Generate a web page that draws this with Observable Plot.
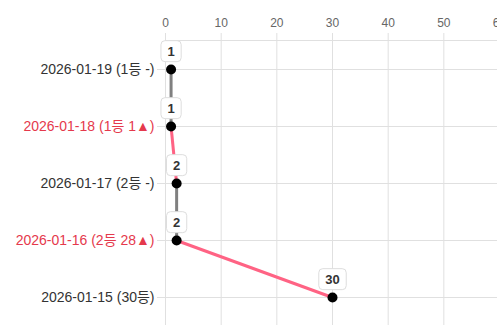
<!DOCTYPE html>
<html>
<head>
<meta charset="utf-8">
<script src="https://cdn.jsdelivr.net/npm/d3@7"></script>
<script src="https://cdn.jsdelivr.net/npm/@observablehq/plot@0.6"></script>
<style>
  html, body { margin: 0; padding: 0; background: #fff; overflow: hidden; }
  #chart svg { font-family: "Liberation Sans", Arial, "Noto Sans CJK KR", sans-serif; }
</style>
</head>
<body>
<div id="chart"></div>
<script>
const dates = ["2026-01-19", "2026-01-18", "2026-01-17", "2026-01-16", "2026-01-15"];
const ranks = [1, 1, 2, 2, 30];
const changes = [0, 1, 0, 28, null];
const xTicks = [0, 10, 20, 30, 40, 50, 60];

const grayLine = "#808080";
const pinkLine = "#ff6384";
const labelRed = "#e5394c";
const labelDark = "#333333";
const gridColor = "#e0e0e0";

const rows = dates.map((d, i) => ({
  date: d,
  rank: ranks[i],
  change: changes[i],
  label: changes[i] == null ? `${d} (${ranks[i]}등)`
       : changes[i] === 0 ? `${d} (${ranks[i]}등 -)`
       : `${d} (${ranks[i]}등 ${changes[i]}▲)`
}));

const segments = rows.slice(0, -1).map((r, i) => ({
  x1: r.rank, y1: r.date, x2: rows[i + 1].rank, y2: rows[i + 1].date,
  color: r.rank === rows[i + 1].rank ? grayLine : pinkLine
}));

const chart = Plot.plot({
  width: 497,
  height: 327,
  marginLeft: 165,
  marginRight: -2,
  marginTop: 40,
  marginBottom: 2,
  style: { fontSize: "12px", background: "#fff", overflow: "visible" },
  x: { domain: [0, 60], ticks: xTicks },
  y: { type: "point", domain: dates, padding: 0.5 },
  marks: [
    Plot.gridX({ ticks: xTicks, stroke: gridColor, strokeOpacity: 1 }),
    Plot.gridY({ stroke: gridColor, strokeOpacity: 1 }),
    Plot.frame({ anchor: "top", stroke: gridColor, strokeOpacity: 1 }),
    Plot.axisX({ anchor: "top", ticks: xTicks, tickSize: 8, tickPadding: 6, stroke: gridColor, strokeOpacity: 1, fill: "#666", label: null }),
    Plot.axisY({ tickSize: 8, stroke: gridColor, strokeOpacity: 1, tickFormat: () => "", label: null }),
    Plot.text(rows, {
      y: "date", text: "label", frameAnchor: "left", dx: -11, textAnchor: "end",
      fontSize: 14, fill: d => d.change > 0 ? labelRed : labelDark
    }),
    Plot.link(segments, { x1: "x1", y1: "y1", x2: "x2", y2: "y2", stroke: "color", strokeWidth: 3 }),
    Plot.dot(rows, { x: "rank", y: "date", r: 5, fill: "#000" }),
    Plot.text(rows, {
      x: "rank", y: "date", text: d => String(d.rank), dy: -18,
      fontSize: 13, fontWeight: "bold", fill: "#333"
    })
  ]
});

document.getElementById("chart").append(chart);

chart.querySelectorAll('g[aria-label="text"][font-weight="bold"] text').forEach(t => {
  const bb = t.getBBox();
  const w = bb.width + 13, h = 21;
  const cx = bb.x + bb.width / 2, cy = bb.y + bb.height / 2;
  const rect = document.createElementNS("http://www.w3.org/2000/svg", "rect");
  rect.setAttribute("x", cx - w / 2);
  rect.setAttribute("y", cy - h / 2);
  rect.setAttribute("width", w);
  rect.setAttribute("height", h);
  rect.setAttribute("rx", 4);
  rect.setAttribute("fill", "#fff");
  rect.setAttribute("stroke", "#dddddd");
  rect.setAttribute("stroke-width", 1);
  if (t.getAttribute("transform")) rect.setAttribute("transform", t.getAttribute("transform"));
  t.parentNode.insertBefore(rect, t);
});
</script>
</body>
</html>
